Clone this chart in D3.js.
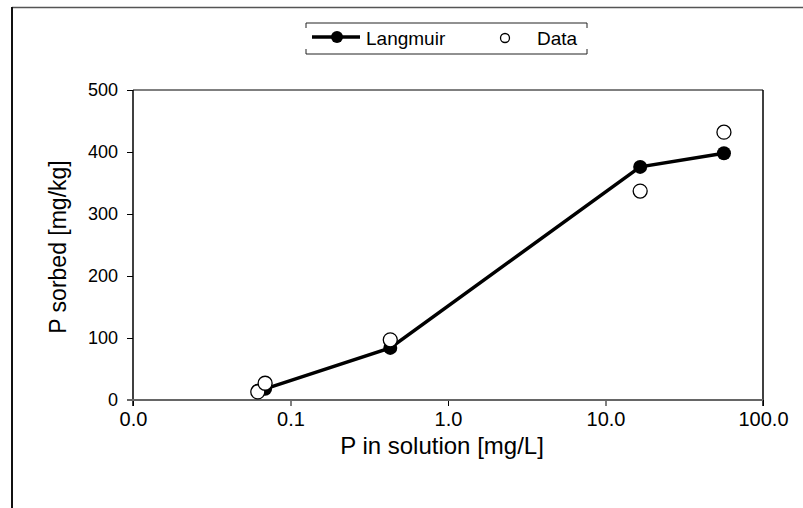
<!DOCTYPE html>
<html><head><meta charset="utf-8">
<script src="https://cdn.jsdelivr.net/npm/d3@7"></script>
<style>body{margin:0;background:#fff}svg{display:block}text{font-family:"Liberation Sans",Arial,sans-serif;fill:#000}</style>
</head><body><svg id="c" width="803" height="508"></svg>
<script>
const pSolution = [0.062, 0.069, 0.43, 16.6, 56.5];
const langmuir = [15, 18, 84, 376, 398];
const measured = [13, 27, 97, 337, 432];
const xTicks = [0.01, 0.1, 1, 10, 100];
const xTickLabels = ["0.0", "0.1", "1.0", "10.0", "100.0"];
const yTicks = [0, 100, 200, 300, 400, 500];

const svg = d3.select("#c");
const L = 133, R = 763, T = 90, B = 400;
const x = d3.scaleLog().domain([0.01, 100]).range([L, R]);
const y = d3.scaleLinear().domain([0, 500]).range([B, T]);

// outer frame
svg.append("line").attr("x1", 12).attr("x2", 803).attr("y1", 7.5).attr("y2", 7.5).attr("stroke", "#555").attr("stroke-width", 1.5);
svg.append("line").attr("x1", 12).attr("x2", 12).attr("y1", 7).attr("y2", 508).attr("stroke", "#111").attr("stroke-width", 2);

// top and right borders of plot
svg.append("line").attr("x1", L).attr("x2", R).attr("y1", T).attr("y2", T).attr("stroke", "#000").attr("stroke-width", 1);
svg.append("line").attr("x1", R).attr("x2", R).attr("y1", T).attr("y2", B + 6).attr("stroke", "#000").attr("stroke-width", 1.5);

// y axis
const yAxis = d3.axisLeft(y).tickValues(yTicks).tickSize(6).tickPadding(9).tickFormat(d3.format("d"));
const gy = svg.append("g").attr("transform", `translate(${L},0)`).call(yAxis);
gy.select(".domain").remove();
gy.selectAll(".tick line").attr("stroke", "#000").attr("stroke-width", 1);
gy.selectAll(".tick text").style("font-size", "18px").attr("font-family", null);
svg.append("line").attr("x1", L).attr("x2", L).attr("y1", T).attr("y2", B + 6).attr("stroke", "#000").attr("stroke-width", 1.5);

// x axis
const xAxis = d3.axisBottom(x).tickValues(xTicks).tickSize(6).tickFormat((d, i) => xTickLabels[i]);
const gx = svg.append("g").attr("transform", `translate(0,${B})`).call(xAxis);
gx.select(".domain").remove();
gx.selectAll(".tick line").attr("stroke", "#000").attr("stroke-width", 1);
gx.selectAll(".tick text").style("font-size", "20px").attr("font-family", null).attr("y", 12);
svg.append("line").attr("x1", L - 6).attr("x2", R).attr("y1", B).attr("y2", B).attr("stroke", "#666").attr("stroke-width", 2);

// titles
svg.append("text").attr("x", 442).attr("y", 454).attr("text-anchor", "middle").style("font-size", "24px").text("P in solution [mg/L]");
svg.append("text").attr("transform", `translate(66,247) rotate(-90)`).attr("text-anchor", "middle").style("font-size", "23px").text("P sorbed [mg/kg]");

// Langmuir line + filled markers
const pts = pSolution.map((d, i) => [d, langmuir[i]]);
svg.append("path").datum(pts).attr("fill", "none").attr("stroke", "#000").attr("stroke-width", 3.5)
  .attr("d", d3.line().x(d => x(d[0])).y(d => y(d[1])));
svg.selectAll(".fm").data(pts).enter().append("circle").attr("cx", d => x(d[0])).attr("cy", d => y(d[1])).attr("r", 7).attr("fill", "#000");

// Data open circles
svg.selectAll(".om").data(pSolution.map((d, i) => [d, measured[i]])).enter().append("circle")
  .attr("cx", d => x(d[0])).attr("cy", d => y(d[1])).attr("r", 7).attr("fill", "#fff").attr("stroke", "#000").attr("stroke-width", 1.3);

// legend
const lg = svg.append("g");
const lx0 = 306, lx1 = 587, ly0 = 23, ly1 = 54;
lg.append("line").attr("x1", lx0).attr("x2", lx1).attr("y1", ly0).attr("y2", ly0).attr("stroke", "#222").attr("stroke-width", 1);
lg.append("line").attr("x1", lx0).attr("x2", lx1).attr("y1", ly1).attr("y2", ly1).attr("stroke", "#222").attr("stroke-width", 1);
[[lx0, ly0, ly0 + 5], [lx1, ly0, ly0 + 5], [lx0, ly1 - 5, ly1], [lx1, ly1 - 5, ly1]].forEach(s =>
  lg.append("line").attr("x1", s[0]).attr("x2", s[0]).attr("y1", s[1]).attr("y2", s[2]).attr("stroke", "#222").attr("stroke-width", 1));
lg.append("line").attr("x1", 312).attr("x2", 360).attr("y1", 37).attr("y2", 37).attr("stroke", "#000").attr("stroke-width", 3.5);
lg.append("circle").attr("cx", 337).attr("cy", 37).attr("r", 6).attr("fill", "#000");
lg.append("text").attr("x", 366).attr("y", 45).style("font-size", "19px").text("Langmuir");
lg.append("circle").attr("cx", 505).attr("cy", 38).attr("r", 4.5).attr("fill", "#fff").attr("stroke", "#000").attr("stroke-width", 1.3);
lg.append("text").attr("x", 537).attr("y", 45).style("font-size", "19px").text("Data");
</script></body></html>
